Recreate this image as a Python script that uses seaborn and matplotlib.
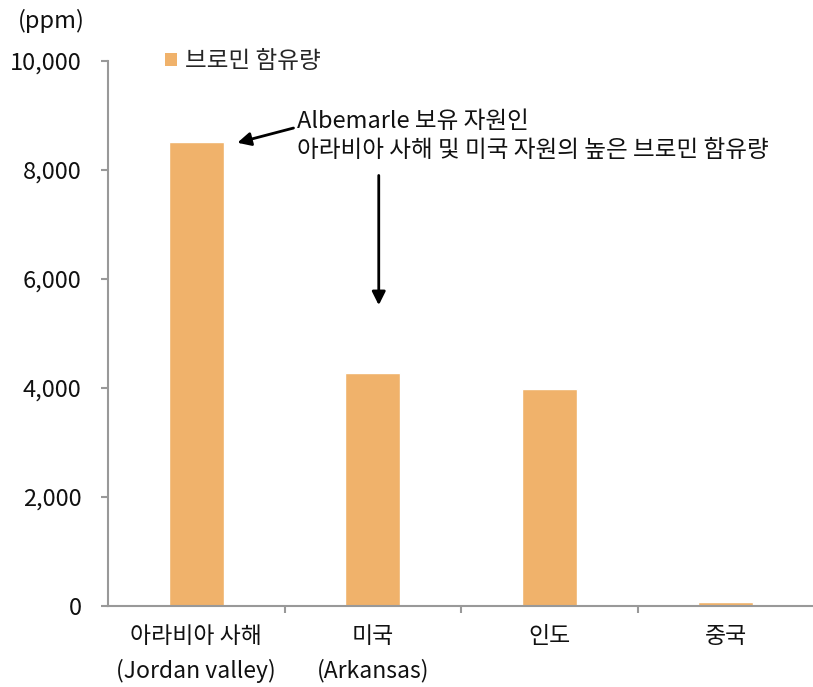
import matplotlib
matplotlib.use("Agg")
import matplotlib.pyplot as plt
import seaborn as sns
import pandas as pd
from matplotlib.patches import Patch

categories = ["아라비아 사해\n(Jordan valley)", "미국\n(Arkansas)", "인도", "중국"]
bromine_ppm = [8520, 4270, 3980, 80]
series_name = "브로민 함유량"
y_ticks = [0, 2000, 4000, 6000, 8000, 10000]
unit_label = "(ppm)"
note_lines = "Albemarle 보유 자원인\n아라비아 사해 및 미국 자원의 높은 브로민 함유량"

sns.set_theme(style="white")
plt.rcParams["font.family"] = ["Noto Sans CJK KR", "DejaVu Sans"]

W, H = 813, 687
fig = plt.figure(figsize=(W / 100, H / 100), dpi=100)
ax = fig.add_axes([108 / W, 1 - 606 / H, 706 / W, 545 / H])

df = pd.DataFrame({"cat": categories, "val": bromine_ppm})
bar_color = "#F0B26B"
sns.barplot(data=df, x="cat", y="val", color=bar_color, width=0.31,
            saturation=1, ax=ax)

ax.set_xlim(-0.5, 3.5)
ax.set_ylim(0, 10000)
ax.set_yticks(y_ticks)
ax.set_yticklabels([f"{v:,}" for v in y_ticks], fontsize=17, color="#111111")
ax.set_xlabel("")
ax.set_ylabel("")

for s in ["top", "right"]:
    ax.spines[s].set_visible(False)
for s in ["left", "bottom"]:
    ax.spines[s].set_color("#999999")
    ax.spines[s].set_linewidth(1.5)

ax.tick_params(axis="y", which="major", direction="out", length=5, width=1.5,
               color="#999999", left=True, pad=14)
ax.tick_params(axis="x", which="major", length=0, pad=14, labelsize=16.5,
               labelcolor="#111111")
ax.set_xticks(range(len(categories)))
ax.set_xticklabels(categories, linespacing=1.55)
ax.set_xticks([0.5, 1.5, 2.5], minor=True)
ax.tick_params(axis="x", which="minor", direction="out", length=5, width=1.5,
               color="#999999", bottom=True)

# legend
ax.legend(handles=[Patch(facecolor=bar_color, edgecolor="none", label=series_name)],
          loc="upper left", bbox_to_anchor=(165 / W, 1 - 50 / H),
          bbox_transform=fig.transFigure, frameon=False, fontsize=17,
          handlelength=0.5, handleheight=0.5, handletextpad=0.35,
          borderpad=0, borderaxespad=0)

fig.text(18 / W, 1 - 21 / H, unit_label, fontsize=17, va="center", ha="left",
         color="#111111")

fig.text(297 / W, 1 - 136 / H, note_lines, fontsize=17, va="center", ha="left",
         linespacing=1.3, color="#111111")

arrow = dict(arrowstyle="-|>", color="black", lw=2, mutation_scale=20,
             shrinkA=0, shrinkB=0)
ax.annotate("", xy=(0.233, 8500), xytext=(0.551, 8770), arrowprops=arrow)
ax.annotate("", xy=(1.034, 5520), xytext=(1.034, 7900), arrowprops=arrow)

fig.savefig("out.png", dpi=100)
